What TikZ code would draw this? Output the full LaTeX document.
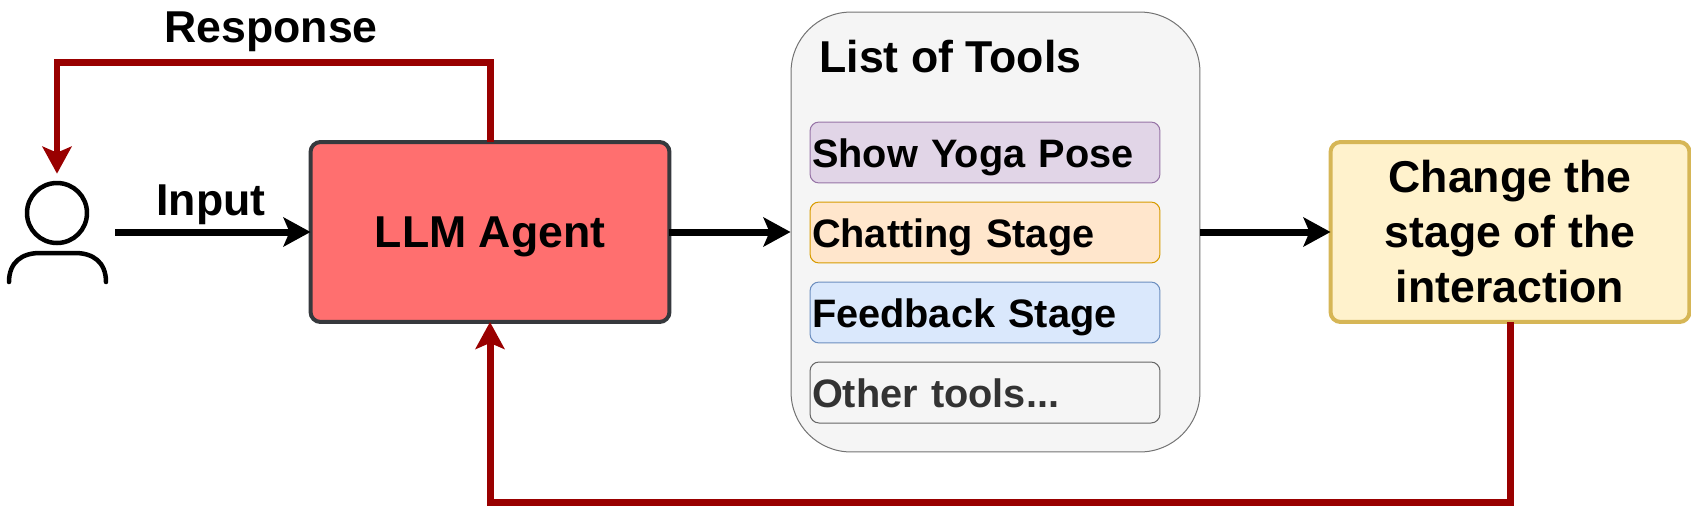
\documentclass[tikz,border=0pt]{standalone}
\usepackage{fontspec}
\setmainfont{Liberation Sans}
\usetikzlibrary{arrows.meta}
\definecolor{agentfill}{HTML}{FF6F6F}
\definecolor{agentline}{HTML}{36393D}
\definecolor{returnred}{HTML}{990000}
\definecolor{yogafill}{HTML}{E1D5E7}
\definecolor{yogaline}{HTML}{9673A6}
\definecolor{chatfill}{HTML}{FFE6CC}
\definecolor{chatline}{HTML}{D79B00}
\definecolor{feedbackfill}{HTML}{DAE8FC}
\definecolor{feedbackline}{HTML}{6C8EBF}
\definecolor{stagefill}{HTML}{FFF2CC}
\definecolor{stageline}{HTML}{D6B656}
\begin{document}
\begin{tikzpicture}[
    x=0.02cm,
    y=-0.02cm,
    >={Stealth[length=0.54cm, width=0.58cm, inset=0.12cm]},
    flowarrow/.style={->, line width=0.14cm},
    returnarrow/.style={->, line width=0.14cm, color=returnred},
    flowlabel/.style={font=\fontsize{25.4}{25.4}\selectfont\bfseries, inner sep=0pt},
    mainbox/.style={draw, rounded corners=0.2cm, line width=0.08cm, outer sep=0pt, minimum width=7.18cm, minimum height=3.6cm, align=center, font=\fontsize{25.4}{31.3}\selectfont\bfseries},
    toolbox/.style={draw, rounded corners=0.18cm, line width=0.02cm, minimum height=1.22cm, text width=6.92cm, inner xsep=0.04cm, inner ysep=0pt, text height=0.58cm, text depth=0pt, align=left, font=\fontsize{22.6}{24}\selectfont\bfseries},
    usericon/.style={draw, line width=0.09cm, line cap=round},
]
\useasboundingbox (0, 0) rectangle (1691, 514);

\node[minimum width=2.32cm, minimum height=2.32cm, inner sep=0pt] (user) at (57, 232) {};
\node[usericon, circle, minimum size=1.2cm, inner sep=0pt] (userhead) at (57, 213) {};
\draw[usericon] (9, 282) .. controls (9, 262) and (22, 253) .. (40, 253) -- (75, 253) .. controls (93, 253) and (106, 262) .. (106, 282);

\node[mainbox, fill=agentfill, draw=agentline, text height=0.6cm, text depth=0pt] (agent) at (490, 232) {LLM Agent};

\node[draw=black!55, fill=black!4, line width=0.02cm, rounded corners=1.2cm, minimum width=8.18cm, minimum height=8.8cm, inner sep=0pt] (toollist) at (995.5, 232) {};
\node[anchor=base west, flowlabel] (toollisttitle) at (819, 72) {List of Tools};

\node[toolbox, fill=yogafill, draw=yogaline] (yogatool) at (985, 152.5) {Show Yoga Pose};
\node[toolbox, fill=chatfill, draw=chatline] (chattool) at (985, 232.5) {Chatting Stage};
\node[toolbox, fill=feedbackfill, draw=feedbackline] (feedbacktool) at (985, 312.5) {Feedback Stage};
\node[toolbox, fill=black!4, draw=black!60, text=black!80] (othertool) at (985, 392.5) {Other tools...};

\node[mainbox, fill=stagefill, draw=stageline] (stagebox) at (1510, 232) {Change the\\stage of the\\interaction};

\draw[flowarrow] (user.east) -- (agent.west);
\draw[flowarrow] (agent.east) -- (toollist.west);
\draw[flowarrow] (toollist.east) -- (stagebox.west);
\draw[returnarrow] (agent.north) -- ++(0, -80) -| (user.north);
\draw[returnarrow] (stagebox.south) -- ++(0, 181) -| (agent.south);

\node[anchor=base, flowlabel] (inputlabel) at (211, 215) {Input};
\node[anchor=base, flowlabel] (responselabel) at (271, 42) {Response};

\end{tikzpicture}
\end{document}
